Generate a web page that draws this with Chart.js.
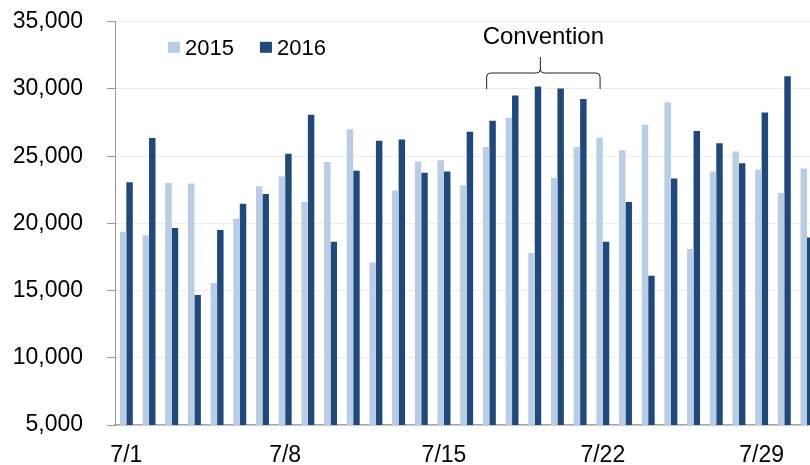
<!DOCTYPE html>
<html>
<head>
<meta charset="utf-8">
<script src="https://cdn.jsdelivr.net/npm/chart.js@4"></script>
<style>
  html, body { margin: 0; padding: 0; background: #fff; overflow: hidden; }
  #wrap { width: 810px; height: 465px; overflow: hidden; position: relative; }
  canvas { display: block; position: absolute; left: 0; top: -16px; }
</style>
</head>
<body>
<div id="wrap"><canvas id="c" width="824" height="481"></canvas></div>
<script>
const categories = ['7/1','7/2','7/3','7/4','7/5','7/6','7/7','7/8','7/9','7/10',
  '7/11','7/12','7/13','7/14','7/15','7/16','7/17','7/18','7/19','7/20',
  '7/21','7/22','7/23','7/24','7/25','7/26','7/27','7/28','7/29','7/30','7/31'];
const values2015 = [19380, 19110, 23010, 22960, 15570, 20350, 22760, 23490, 21600, 24560,
  27000, 17090, 22440, 24610, 24700, 22840, 25680, 27870, 17790, 23390,
  25680, 26400, 25450, 27340, 29010, 18090, 23860, 25350, 24010, 22270, 24080];
const values2016 = [23060, 26350, 19650, 14680, 19500, 21470, 22190, 25180, 28090, 18630,
  23910, 26150, 26250, 23760, 23860, 26820, 27640, 29510, 30180, 30030,
  29260, 18630, 21600, 16100, 23340, 26870, 25970, 24480, 28260, 30950, 18960];
const seriesLabels = ['2015', '2016'];
const seriesColors = ['#b9cde5', '#1f497d'];
const yTicks = { min: 5000, max: 35000, step: 5000 };
const annotation = { text: 'Convention', fromIndex: 16, toIndex: 21, atValue: 30000 };

const FONT = "'Liberation Sans', Arial, sans-serif";

const legendPlugin = {
  id: 'customLegend',
  afterDraw(chart) {
    const ctx = chart.ctx;
    const area = chart.chartArea;
    ctx.save();
    ctx.font = '22px ' + FONT;
    ctx.textBaseline = 'alphabetic';
    let x = area.left + 53;
    const yBase = area.top + 33;
    chart.data.datasets.forEach((ds) => {
      ctx.fillStyle = ds.backgroundColor;
      ctx.fillRect(x, yBase - 13, 12, 11);
      ctx.fillStyle = '#000';
      ctx.fillText(ds.label, x + 17, yBase);
      x += 17 + ctx.measureText(ds.label).width + 26;
    });
    ctx.restore();
  }
};

const bracePlugin = {
  id: 'brace',
  afterDatasetsDraw(chart) {
    const ctx = chart.ctx;
    const xs = chart.scales.x, ys = chart.scales.y;
    const cw = xs.getPixelForValue(1) - xs.getPixelForValue(0);
    const x0 = xs.getPixelForValue(annotation.fromIndex) - 0.12 * cw;
    const x1 = xs.getPixelForValue(annotation.toIndex) - 0.12 * cw;
    const yb = ys.getPixelForValue(annotation.atValue);
    const mid = (x0 + x1) / 2;
    const xc = mid - 3;
    const yh = yb - 16;
    const yt = yb - 32;
    const r = 4;
    ctx.save();
    ctx.strokeStyle = '#222';
    ctx.lineWidth = 1;
    ctx.beginPath();
    ctx.moveTo(x0, yb);
    ctx.lineTo(x0, yh + r);
    ctx.quadraticCurveTo(x0, yh, x0 + r, yh);
    ctx.lineTo(xc - r, yh);
    ctx.quadraticCurveTo(xc, yh, xc, yh - r);
    ctx.lineTo(xc, yt);
    ctx.moveTo(xc, yh - r);
    ctx.quadraticCurveTo(xc, yh, xc + r, yh);
    ctx.lineTo(x1 - r, yh);
    ctx.quadraticCurveTo(x1, yh, x1, yh + r);
    ctx.lineTo(x1, yb);
    ctx.stroke();
    ctx.font = '24px ' + FONT;
    ctx.fillStyle = '#000';
    ctx.textAlign = 'center';
    ctx.textBaseline = 'alphabetic';
    ctx.fillText(annotation.text, mid, yb - 45);
    ctx.restore();
  }
};

new Chart(document.getElementById('c'), {
  type: 'bar',
  data: {
    labels: categories,
    datasets: [
      { label: seriesLabels[0], data: values2015, backgroundColor: seriesColors[0] },
      { label: seriesLabels[1], data: values2016, backgroundColor: seriesColors[1] }
    ]
  },
  options: {
    responsive: false,
    animation: false,
    events: [],
    layout: { padding: { top: 7, left: 0, right: 0, bottom: 0 } },
    datasets: { bar: { categoryPercentage: 0.57, barPercentage: 1.0 } },
    plugins: { legend: { display: false }, tooltip: { enabled: false } },
    scales: {
      x: {
        grid: { display: false, drawTicks: false },
        border: { color: '#a6a6a6', width: 1.5 },
        ticks: {
          autoSkip: false, maxRotation: 0, minRotation: 0,
          font: { family: FONT, size: 23 }, color: '#000', padding: 17,
          callback: function(v, i) { return i % 7 === 0 ? categories[i] : ''; }
        },
        afterFit(scale) { scale.height = 40; }
      },
      y: {
        min: yTicks.min, max: yTicks.max,
        grid: { color: '#ececec', tickColor: '#999', tickLength: 8, lineWidth: 1 },
        border: { color: '#999', width: 1 },
        ticks: {
          stepSize: yTicks.step, font: { family: FONT, size: 23 }, color: '#000', padding: 24,
          callback: (v) => v.toLocaleString('en-US')
        },
        afterFit(scale) { scale.width = 115; }
      }
    }
  },
  plugins: [legendPlugin, bracePlugin]
});
</script>
</body>
</html>
